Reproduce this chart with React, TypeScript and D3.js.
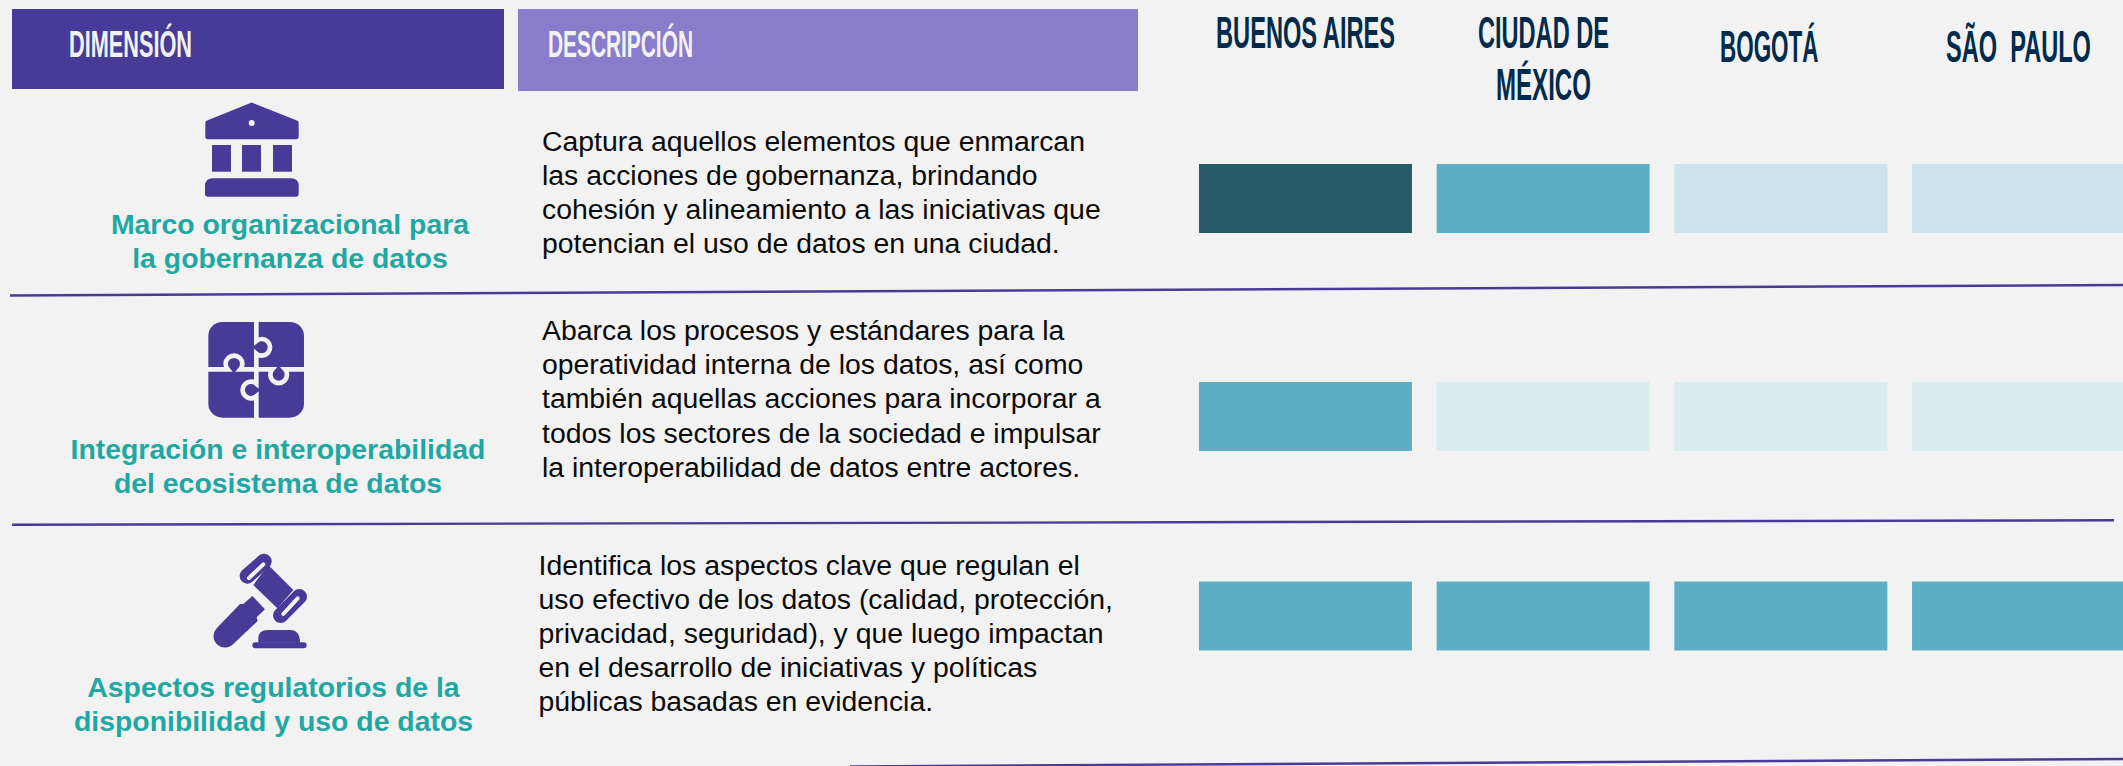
import React from "react";
import * as d3 from "d3";

const cities = ["BUENOS AIRES", "CIUDAD DE MÉXICO", "BOGOTÁ", "SÃO  PAULO"];
const dimensions = ["marco", "integracion", "regulatorio"];
const levelDomain = [4, 3, 2, 1];
const marcoValues = [4, 3, 2, 2];
const integracionValues = [3, 1, 1, 1];
const regulatorioValues = [3, 3, 3, 3];
const marcoTitle = ["Marco organizacional para", "la gobernanza de datos"];
const integracionTitle = ["Integración e interoperabilidad", "del ecosistema de datos"];
const regulatorioTitle = ["Aspectos regulatorios de la", "disponibilidad y uso de datos"];
const marcoDesc = [
  "Captura aquellos elementos que enmarcan",
  "las acciones de gobernanza, brindando",
  "cohesión y alineamiento a las iniciativas que",
  "potencian el uso de datos en una ciudad.",
];
const integracionDesc = [
  "Abarca los procesos y estándares para la",
  "operatividad interna de los datos, así como",
  "también aquellas acciones para incorporar a",
  "todos los sectores de la sociedad e impulsar",
  "la interoperabilidad de datos entre actores.",
];
const regulatorioDesc = [
  "Identifica los aspectos clave que regulan el",
  "uso efectivo de los datos (calidad, protección,",
  "privacidad, seguridad), y que luego impactan",
  "en el desarrollo de iniciativas y políticas",
  "públicas basadas en evidencia.",
];

const W = 2123;
const H = 766;
const PURPLE = "#483b98";
const LILAC = "#897cca";
const BG = "#f2f2f2";
const TEAL = "#1fa8a3";
const NAVY = "#022b4b";
const SANS = "'Liberation Sans', Arial, sans-serif";

const x = d3.scaleBand<string>().domain(cities).range([1199, 2125]).paddingInner(0.104).paddingOuter(0);
const rowTop = d3.scaleOrdinal<string, number>().domain(dimensions).range([164, 382, 581.5]);
const rowH = 69;
const color = d3
  .scaleOrdinal<number, string>()
  .domain(levelDomain)
  .range(["#265a66", "#5eafc3", "#cbe4eb", "#daecef"]);

const rows = [
  { key: "marco", values: marcoValues },
  { key: "integracion", values: integracionValues },
  { key: "regulatorio", values: regulatorioValues },
];

const measureCtx = document.createElement("canvas").getContext("2d")!;

function Narrow(p: { x: number; y: number; w: number; size: number; fill: string; children: string }) {
  measureCtx.font = `700 ${p.size}px ${SANS}`;
  const natural = measureCtx.measureText(p.children).width;
  return (
    <text
      transform={`translate(${p.x},${p.y}) scale(${p.w / natural},1)`}
      fontFamily={SANS}
      fontWeight={700}
      fontSize={p.size}
      fill={p.fill}
      style={{ whiteSpace: "pre" }}
    >
      {p.children}
    </text>
  );
}

function Lines(p: {
  lines: string[];
  x: number;
  y: number;
  dy: number;
  size: number;
  fill: string;
  weight?: number;
  anchor?: "start" | "middle";
}) {
  return (
    <text fontFamily={SANS} fontSize={p.size} fill={p.fill} fontWeight={p.weight ?? 400} textAnchor={p.anchor ?? "start"}>
      {p.lines.map((l, i) => (
        <tspan key={i} x={p.x} y={p.y + i * p.dy}>
          {l}
        </tspan>
      ))}
    </text>
  );
}

function Bank() {
  return (
    <g fill={PURPLE}>
      <path d="M251.7 102.5 L297 120.5 Q298.7 121.3 298.7 123 L298.7 136.5 Q298.7 139.3 296 139.3 L208 139.3 Q205.3 139.3 205.3 136.5 L205.3 123 Q205.3 121.3 207 120.5 Z" />
      <circle cx={251.7} cy={123} r={3} fill={BG} />
      <rect x={212} y={145} width={19} height={26.7} />
      <rect x={242} y={145} width={19} height={26.7} />
      <rect x={273} y={145} width={19} height={26.7} />
      <path d="M213 178.3 L291 178.3 Q298.7 178.3 298.7 186 L298.7 194 Q298.7 196.7 296 196.7 L208 196.7 Q205 196.7 205 194 L205 186 Q205 178.3 213 178.3 Z" />
    </g>
  );
}

function Puzzle() {
  return (
    <g transform="translate(180,310) scale(0.3333)">
      <rect x={85} y={36} width={287} height={287} rx={42} fill={PURPLE} />
      <path
        d="M229 30 L229 93 A25 25 0 1 1 229 131 L229 178 L229 221 A25 25 0 1 0 229 259 L229 330 M79 178 L143 178 A25 25 0 1 1 181 178 L277 178 A25 25 0 1 0 315 178 L378 178"
        fill="none"
        stroke={BG}
        strokeWidth={14}
      />
    </g>
  );
}

function Gavel() {
  return (
    <g transform="translate(190,540) scale(0.3333)" fill={PURPLE}>
      <path d="M235 75 L310 150 L262 205 L190 135 Z" />
      <line x1={172} y1={108} x2={222} y2={64} stroke={PURPLE} strokeWidth={46} strokeLinecap="round" />
      <line x1={272} y1={226} x2={328} y2={170} stroke={PURPLE} strokeWidth={46} strokeLinecap="round" />
      <line x1={177} y1={114} x2={220} y2={73} stroke={BG} strokeWidth={12} strokeLinecap="round" />
      <line x1={280} y1={222} x2={323} y2={175} stroke={BG} strokeWidth={12} strokeLinecap="round" />
      <path d="M80 265 L150 192 L160 192 L187 168 L225 208 L200 232 L203 243 L130 312 A33 33 0 0 1 80 265 Z" />
      <path d="M205 308 L205 295 Q205 270 235 270 L300 270 Q330 270 330 308 Z" />
      <rect x={187} y={307} width={163} height={18} rx={9} />
    </g>
  );
}

export default function App() {
  return (
    <svg
      width={W}
      height={H}
      viewBox={`0 0 ${W} ${H}`}
      style={{ position: "fixed", left: 0, top: 0, display: "block", background: BG }}
    >
      <rect x={0} y={0} width={W} height={H} fill={BG} />

      <rect x={12} y={9} width={492} height={80} fill={PURPLE} />
      <rect x={518} y={9} width={620} height={82} fill={LILAC} />
      <Narrow x={69} y={57} w={123} size={37} fill="#f2f2f2">DIMENSIÓN</Narrow>
      <Narrow x={548} y={57} w={145} size={37} fill="#f2f2f2">DESCRIPCIÓN</Narrow>

      <Narrow x={1216} y={48} w={180} size={44} fill={NAVY}>{cities[0]}</Narrow>
      <Narrow x={1478} y={48} w={131} size={44} fill={NAVY}>CIUDAD DE</Narrow>
      <Narrow x={1496} y={100} w={95} size={44} fill={NAVY}>MÉXICO</Narrow>
      <Narrow x={1720} y={62} w={98.5} size={44} fill={NAVY}>{cities[2]}</Narrow>
      <Narrow x={1946} y={62} w={145} size={44} fill={NAVY}>{cities[3]}</Narrow>

      {rows.map((r) =>
        r.values.map((v, i) => (
          <rect
            key={r.key + i}
            x={x(cities[i])}
            y={rowTop(r.key)}
            width={x.bandwidth()}
            height={rowH}
            fill={color(v)}
          />
        ))
      )}

      <Bank />
      <Puzzle />
      <Gavel />

      <Lines lines={marcoTitle} x={290} y={234} dy={34} size={28.4} fill={TEAL} weight={700} anchor="middle" />
      <Lines lines={integracionTitle} x={278} y={459} dy={33.7} size={28.4} fill={TEAL} weight={700} anchor="middle" />
      <Lines lines={regulatorioTitle} x={273.5} y={696.7} dy={34} size={28.4} fill={TEAL} weight={700} anchor="middle" />

      <Lines lines={marcoDesc} x={542} y={150.7} dy={34.2} size={28.4} fill="#0a0a0a" />
      <Lines lines={integracionDesc} x={542} y={340} dy={34.2} size={28.4} fill="#0a0a0a" />
      <Lines lines={regulatorioDesc} x={538.5} y={575} dy={34} size={28.4} fill="#0a0a0a" />

      <g stroke={PURPLE} strokeWidth={2.4}>
        <line x1={10} y1={295.5} x2={2123} y2={285} />
        <line x1={12} y1={524.7} x2={2114} y2={520.3} />
        <line x1={850} y1={766.4} x2={2123} y2={759} />
      </g>
    </svg>
  );
}
